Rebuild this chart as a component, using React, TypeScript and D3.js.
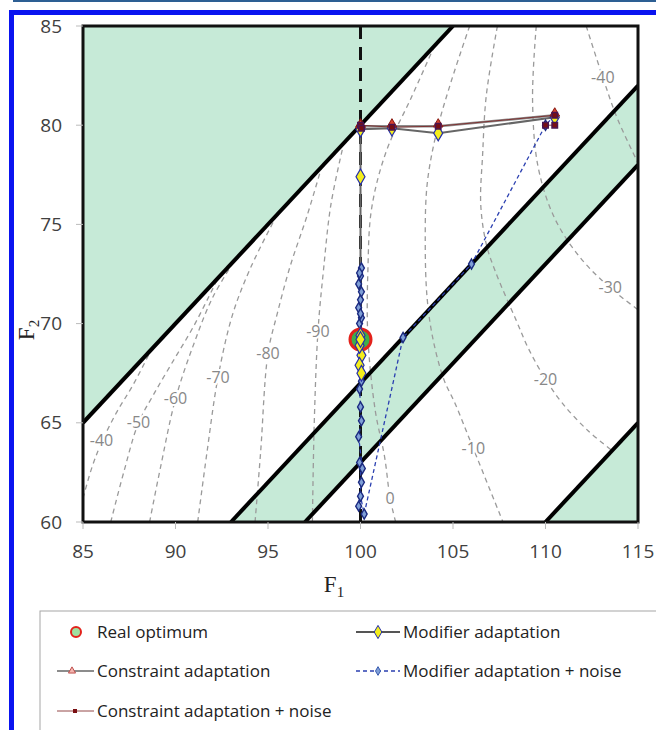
import React from 'react';
import * as d3 from 'd3';

// axes
const xTicks = [85, 90, 95, 100, 105, 110, 115];
const yTicks = [60, 65, 70, 75, 80, 85];

// shaded regions and constraint boundaries, in (F1, F2)
const greenRegions: [number, number][][] = [
  [[85, 65], [85, 85], [105, 85]],
  [[93, 60], [97, 60], [115, 78], [115, 82]],
  [[110, 60], [115, 60], [115, 65]],
];
const boundaryLines: [number, number][][] = [
  [[85, 65], [105, 85]],
  [[93, 60], [115, 82]],
  [[97, 60], [115, 78]],
  [[110, 60], [115, 65]],
];
const boundF1: [number, number][] = [[100, 60], [100, 85]];

// objective contours
const contourLabels = ['-40', '-50', '-60', '-70', '-80', '-90', '0', '-10', '-20', '-30', '-40'];
const contourLabelAt: [number, number][] = [
  [86.0, 64.1], [88.0, 65.0], [90.0, 66.25], [92.3, 67.3], [95.0, 68.5], [97.7, 69.6],
  [101.6, 61.2], [106.1, 63.7], [110.0, 67.2], [113.5, 71.8], [113.1, 82.4],
];
const contourPaths: [number, number][][] = [
  [[85, 61.2], [85.5, 62.8], [86.0, 64.0], [86.8, 65.5], [87.7, 66.9], [88.7, 68.7]],
  [[86.5, 60], [87.2, 62.5], [88.0, 65.0], [88.8, 66.4], [89.8, 68.0], [91.0, 69.9], [92.3, 72.3]],
  [[88.6, 60], [89.2, 62.8], [90.0, 66.2], [91.0, 69.0], [92.0, 71.3], [93.2, 73.2]],
  [[91.2, 60], [91.7, 63.5], [92.3, 67.3], [93.1, 70.5], [94.1, 72.9], [95.5, 75.5]],
  [[94.3, 60], [94.6, 63.5], [95.0, 68.5], [95.5, 70.5], [96.2, 72.9], [97.1, 75.4], [97.9, 77.9]],
  [[97.4, 60], [97.5, 65], [97.7, 69.6], [98.0, 72.7], [98.4, 76.0], [99.1, 79.1]],
  [[104.0, 84.0], [102.7, 81.3], [101.4, 78.7], [100.6, 75.8], [100.4, 72.7], [100.4, 69.3], [100.8, 65.6], [101.3, 63.3], [101.6, 61.2], [101.9, 60]],
  [[105.9, 85], [104.9, 82.2], [104.1, 79.6], [103.6, 77.0], [103.5, 74.0], [103.6, 71.3], [103.9, 69.3], [104.5, 67.2], [105.1, 66.0], [106.1, 63.7], [107.7, 60]],
  [[107.4, 85], [106.8, 81.5], [106.6, 78.5], [106.5, 76.0], [106.8, 74.0], [107.3, 72.6], [108.4, 70.2], [109.1, 68.7], [110.0, 67.2], [110.9, 66.0], [112.3, 64.6], [113.6, 63.6]],
  [[109.5, 85], [109.3, 81.3], [109.6, 77.9], [110.5, 75.3], [111.9, 73.3], [113.5, 71.8], [115, 70.7]],
  [[112.2, 85], [113.1, 82.4], [113.9, 80.3], [115, 78.1]],
];

// iterations of each method
const realOptimum: [number, number][] = [[100, 69.2]];
const modifierAdaptation: [number, number][] = [
  [110.5, 80.4], [104.2, 79.6], [101.7, 79.85], [100, 79.8], [100, 77.4],
  [100, 69.4], [100.05, 68.4], [99.95, 67.9], [100.05, 67.5], [99.95, 68.9], [100, 69.2],
];
const constraintAdaptation: [number, number][] = [
  [110.5, 80.5], [104.2, 79.95], [101.7, 79.95], [100, 79.95], [100, 79.9],
];
const modifierNoise: [number, number][] = [
  [110.5, 80.5], [110, 80], [106, 73], [102.3, 69.3], [100.2, 60.4], [100, 61.3], [99.9, 60.8],
  [100.05, 62], [99.95, 63], [100.1, 62.7], [99.9, 64.3], [100.05, 65.1], [100, 65.8],
  [99.95, 66.7], [100.05, 67.1], [99.95, 70.0], [100.05, 70.3], [99.9, 70.8], [100, 71.2],
  [100.05, 71.6], [99.9, 72.0], [100, 72.4], [100.05, 72.8], [99.95, 72.55], [100, 70.5], [100, 69.6],
];
const constraintNoise: [number, number][] = [
  [110.0, 80.0], [110.5, 80.0], [110.5, 80.5], [104.2, 79.95], [101.7, 79.9], [100, 80.0], [100.05, 79.85],
];

const PLOT = { left: 83, right: 638, top: 26, bottom: 522 };
const SANS = '"Open Sans", sans-serif';
const SERIF = '"Liberation Serif", "DejaVu Serif", serif';

export default function App() {
  const x = d3.scaleLinear().domain([85, 115]).range([PLOT.left, PLOT.right]);
  const y = d3.scaleLinear().domain([60, 85]).range([PLOT.bottom, PLOT.top]);
  const line = d3.line<[number, number]>().x((d) => x(d[0])).y((d) => y(d[1]));
  const curve = d3
    .line<[number, number]>()
    .x((d) => x(d[0]))
    .y((d) => y(d[1]))
    .curve(d3.curveCatmullRom);
  const poly = (pts: [number, number][]) => line(pts) + 'Z';

  const diamond = d3.symbol(d3.symbolDiamond, 70)();
  const smallDiamond = d3.symbol(d3.symbolDiamond, 30)();
  const triangle = d3.symbol(d3.symbolTriangle, 40)();
  const square = d3.symbol(d3.symbolSquare, 30)();

  return (
    <svg width={656} height={730} style={{ position: 'absolute', left: 0, top: 0, background: '#fff' }}>
      <defs>
        <clipPath id="plot">
          <rect x={PLOT.left} y={PLOT.top} width={PLOT.right - PLOT.left} height={PLOT.bottom - PLOT.top} />
        </clipPath>
      </defs>

      {/* outer frame of the figure */}
      <rect x={13} y={0} width={643} height={2} fill="#2d5f93" />
      <rect x={9} y={10} width={647} height={5} fill="#0a14f0" />
      <rect x={9} y={10} width={5} height={720} fill="#0a14f0" />

      <g clipPath="url(#plot)">
        {greenRegions.map((r, i) => (
          <path key={i} d={poly(r)} fill="#c6ead7" />
        ))}
        {contourPaths.map((c, i) => (
          <path key={i} d={curve(c) as string} fill="none" stroke="#9a9a9a" strokeWidth={1.3} strokeDasharray="5,4" />
        ))}
        {contourLabels.map((t, i) => (
          <text
            key={i}
            x={x(contourLabelAt[i][0])}
            y={y(contourLabelAt[i][1])}
            dy="0.35em"
            textAnchor="middle"
            fontFamily={SANS}
            fontSize={16}
            fill="#888"
            stroke="#fff"
            strokeWidth={4}
            paintOrder="stroke"
          >
            {t}
          </text>
        ))}
        {boundaryLines.map((l, i) => (
          <path key={i} d={line(l) as string} stroke="#000" strokeWidth={4} fill="none" />
        ))}
        <path d={line(boundF1) as string} stroke="#111" strokeWidth={3} strokeDasharray="13,8" fill="none" />
      </g>

      {/* plot border */}
      <rect
        x={PLOT.left}
        y={PLOT.top}
        width={PLOT.right - PLOT.left}
        height={PLOT.bottom - PLOT.top}
        fill="none"
        stroke="#111"
        strokeWidth={3}
      />

      {/* trajectories */}
      <path d={line(constraintAdaptation) as string} fill="none" stroke="#8c8c8c" strokeWidth={2.5} />
      <path d={line(modifierAdaptation) as string} fill="none" stroke="#666" strokeWidth={2} />
      <path d={line(modifierNoise) as string} fill="none" stroke="#2a3fb0" strokeWidth={1.3} strokeDasharray="4,3" />
      <path d={line(constraintNoise) as string} fill="none" stroke="#7a1a1a" strokeWidth={0.8} />

      {modifierNoise.map((d, i) => (
        <path key={i} d={smallDiamond as string} transform={`translate(${x(d[0])},${y(d[1])})`} fill="#7f9fd6" stroke="#1b2a80" strokeWidth={1.4} />
      ))}
      {realOptimum.map((d, i) => (
        <circle key={i} cx={x(d[0])} cy={y(d[1])} r={10.5} fill="#3fae4a" stroke="#e3221b" strokeWidth={3} />
      ))}
      {modifierAdaptation.map((d, i) => (
        <path key={i} d={diamond as string} transform={`translate(${x(d[0])},${y(d[1])})`} fill="#f4ee1c" stroke="#2630a8" strokeWidth={1.2} />
      ))}
      {constraintAdaptation.map((d, i) => (
        <path key={i} d={triangle as string} transform={`translate(${x(d[0])},${y(d[1]) - 2})`} fill="#d8432e" stroke="#8a1a10" strokeWidth={1} />
      ))}
      {constraintNoise.map((d, i) => (
        <path key={i} d={square as string} transform={`translate(${x(d[0])},${y(d[1])})`} fill="#7a0f12" stroke="#4a1450" strokeWidth={1.5} />
      ))}

      {/* axes */}
      {yTicks.map((t) => (
        <g key={t}>
          <line x1={PLOT.left - 7} x2={PLOT.left} y1={y(t)} y2={y(t)} stroke="#bbb" />
          <text x={62} y={y(t)} dy="0.35em" textAnchor="end" fontFamily={SANS} fontSize={19} fill="#404040">
            {t}
          </text>
        </g>
      ))}
      {xTicks.map((t) => (
        <g key={t}>
          <line x1={x(t)} x2={x(t)} y1={PLOT.bottom} y2={PLOT.bottom + 7} stroke="#bbb" />
          <text x={x(t)} y={551} dy="0.35em" textAnchor="middle" fontFamily={SANS} fontSize={19} fill="#404040">
            {t}
          </text>
        </g>
      ))}
      <text x={334} y={592} textAnchor="middle" fontFamily={SERIF} fontSize={23} fill="#222">
        F<tspan fontSize={15} dy={5}>1</tspan>
      </text>
      <text transform="translate(34,330) rotate(-90)" textAnchor="middle" fontFamily={SERIF} fontSize={23} fill="#222">
        F<tspan fontSize={15} dy={5}>2</tspan>
      </text>

      {/* legend */}
      <rect x={40} y={611} width={700} height={200} fill="#fff" stroke="#a6a6a6" />
      <g fontFamily={SANS} fontSize={17} fill="#222">
        <circle cx={76} cy={632} r={5} fill="#9fe0a0" stroke="#e3221b" strokeWidth={2} />
        <text x={97} y={632} dy="0.35em">Real optimum</text>

        <line x1={57} x2={94} y1={671} y2={671} stroke="#8c8c8c" strokeWidth={2} />
        <path d={d3.symbol(d3.symbolTriangle, 22)() as string} transform="translate(72,671)" fill="#f3b5b0" stroke="#c0504d" />
        <text x={97} y={671} dy="0.35em">Constraint adaptation</text>

        <line x1={57} x2={94} y1={711} y2={711} stroke="#7a1a1a" strokeWidth={0.8} />
        <path d={d3.symbol(d3.symbolSquare, 16)() as string} transform="translate(75,711)" fill="#7a0f12" />
        <text x={97} y={711} dy="0.35em">Constraint adaptation + noise</text>

        <line x1={356} x2={400} y1={632} y2={632} stroke="#555" strokeWidth={2} />
        <path d={d3.symbol(d3.symbolDiamond, 50)() as string} transform="translate(378,632)" fill="#f4ee1c" stroke="#2630a8" />
        <text x={403} y={632} dy="0.35em">Modifier adaptation</text>

        <line x1={356} x2={400} y1={671} y2={671} stroke="#2a3fb0" strokeWidth={1.3} strokeDasharray="4,3" />
        <path d={d3.symbol(d3.symbolDiamond, 22)() as string} transform="translate(378,671)" fill="#7f9fd6" stroke="#3a5cb0" />
        <text x={403} y={671} dy="0.35em">Modifier adaptation + noise</text>
      </g>
    </svg>
  );
}
